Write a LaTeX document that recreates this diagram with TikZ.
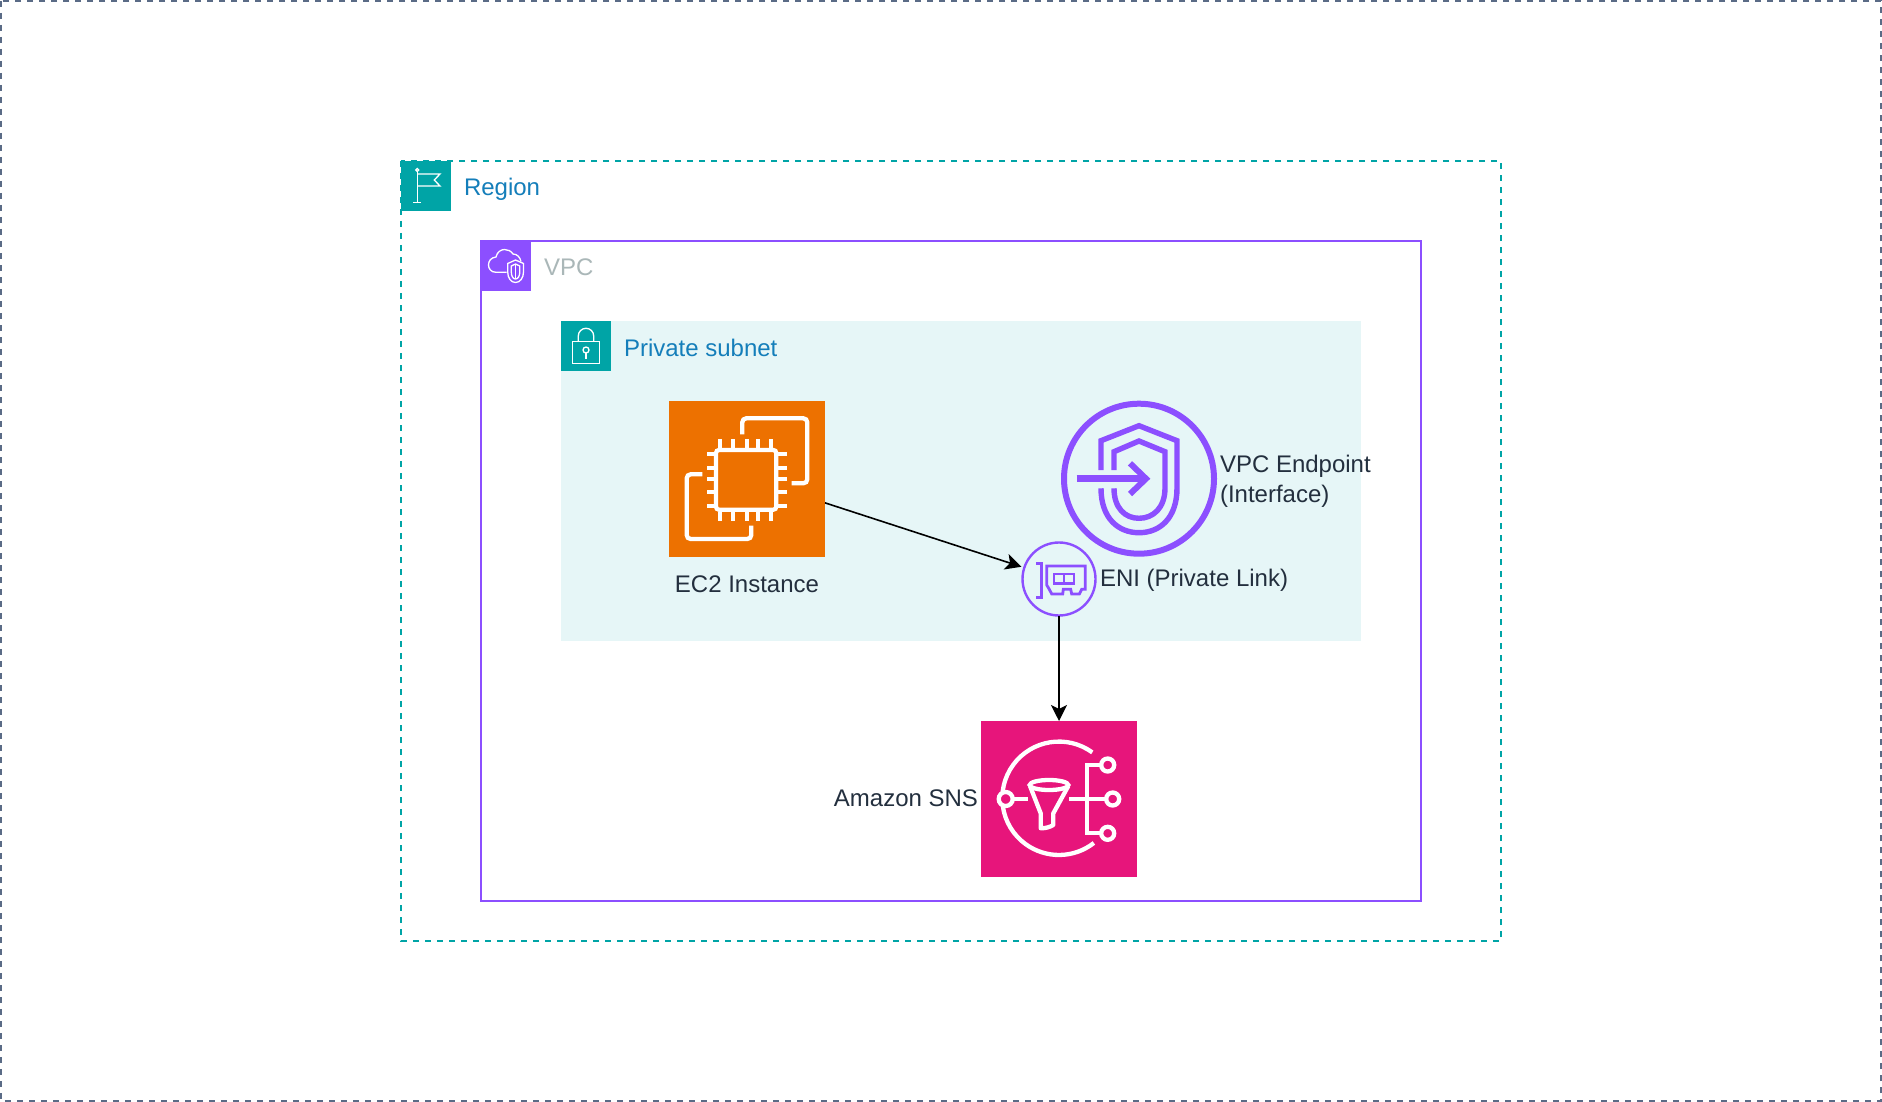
\documentclass[tikz,border=0pt]{standalone}
\usepackage{fontspec}
\setmainfont{Liberation Sans}
\usetikzlibrary{arrows.meta}
\definecolor{awsteal}{HTML}{00A4A6}
\definecolor{awsviolet}{HTML}{8C4FFF}
\definecolor{awsblue}{HTML}{147EBA}
\definecolor{awsgrey}{HTML}{AAB7B8}
\definecolor{awsink}{HTML}{232F3E}
\definecolor{awsorange}{HTML}{ED7100}
\definecolor{awspink}{HTML}{E7157B}
\definecolor{subnetfill}{HTML}{E6F6F7}
\definecolor{cloudedge}{HTML}{5A6B86}
\tikzset{
	txt/.style={font=\fontsize{24}{30}\selectfont, text=awsink, inner sep=0pt, outer sep=0pt, text height=17pt, text depth=5pt},
	grouptxt/.style={txt, anchor=west, text=awsblue},
	badge/.style={minimum size=50pt, inner sep=0pt, outer sep=0pt, anchor=north west},
	servicebox/.style={minimum size=156pt, inner sep=0pt, outer sep=0pt},
	flow/.style={line width=1.6pt, -{Stealth[length=16pt,width=16pt,inset=4pt]}},
	thin glyph/.style={draw=white, line width=1.3pt},
	chip glyph/.style={draw=white, line width=4.3pt},
	sns glyph/.style={draw=white, line width=4.3pt},
}
\begin{document}
\begin{tikzpicture}[x=1pt, y=-1pt]
	\useasboundingbox (0, 0) rectangle (1882, 1102);
	%%%%% GROUPS %%%%%
	\fill[white] (0, 0) rectangle (1882, 1102);
	\draw[cloudedge, line width=2.4pt, dash pattern=on 6pt off 6pt] (1, 1) rectangle (1881, 1101);
	
	\draw[awsteal, line width=2pt, dash pattern=on 6pt off 6pt] (401, 161) rectangle (1501, 941);
	\node[badge, fill=awsteal] (regionbadge) at (401, 161) {};
	\node[grouptxt] (regionlabel) at (464, 190) {Region};
	
	\draw[awsviolet, line width=2.4pt] (481, 241) rectangle (1421, 901);
	\node[badge, fill=awsviolet] (vpcbadge) at (481, 241) {};
	\node[grouptxt, text=awsgrey] (vpclabel) at (544, 269) {VPC};
	
	\fill[subnetfill] (561, 321) rectangle (1361, 641);
	\node[badge, fill=awsteal] (subnetbadge) at (561, 321) {};
	\node[grouptxt] (subnetlabel) at (624, 350) {Private subnet};
	
	% badge glyphs
	\draw[thin glyph] (417.3, 172) -- (417.3, 202.7) (413.3, 202.7) -- (421, 202.7);
	\draw[thin glyph] (417.3, 170) circle (1.5);
	\draw[thin glyph] (417.3, 174) -- (440, 174) -- (434.3, 180) -- (440, 186) -- (417.3, 186);
	
	\draw[thin glyph] (506.7, 272.3) -- (496, 272.3) .. controls (491, 272.3) and (488.5, 268.5) .. (488.5, 265) .. controls (488.5, 261) and (491, 257.5) .. (496, 257) .. controls (497, 252) and (501, 249.5) .. (504.5, 249.5) .. controls (508, 249.5) and (511, 251) .. (513, 254) .. controls (517, 254) and (520, 257) .. (521, 261.5);
	\draw[thin glyph] (515.5, 260) -- (523.5, 263.5) -- (523.5, 272) .. controls (523.5, 278) and (520, 282.5) .. (515.5, 282.5) .. controls (511, 282.5) and (507.7, 278) .. (507.7, 272) -- (507.7, 263.5) -- cycle;
	\draw[thin glyph] (515.5, 264) -- (519.8, 266) -- (519.8, 272) .. controls (519.8, 276) and (518, 279) .. (515.5, 279) .. controls (513, 279) and (511.3, 276) .. (511.3, 272) -- (511.3, 266) -- cycle;
	\draw[thin glyph] (515.5, 264) -- (515.5, 279);
	
	\draw[thin glyph] (572.7, 341.7) rectangle (599.3, 363.7);
	\draw[thin glyph] (578.3, 341.7) -- (578.3, 336) arc (180:360:7.7) -- (593.7, 341.7);
	\draw[thin glyph] (586, 350) circle (3);
	\draw[thin glyph] (586, 353) -- (586, 359.3);
	
	%%%%% SERVICES %%%%%
	\node[servicebox, fill=awsorange] (ec2) at (747, 479) {};
	\node[txt] (ec2label) at (747, 586) {EC2 Instance};
	
	\draw[chip glyph, rounded corners=3pt] (716, 450) rectangle (776.3, 509.7);
	\foreach \px in {720.3, 733.3, 746.7, 758.3, 771.3} {
		\draw[chip glyph] (\px, 439) -- (\px, 448);
		\draw[chip glyph] (\px, 512) -- (\px, 521);
	}
	\foreach \py in {454.3, 467.7, 479, 492.3, 505.7} {
		\draw[chip glyph] (707, \py) -- (714, \py);
		\draw[chip glyph] (778.3, \py) -- (787, \py);
	}
	\draw[chip glyph, rounded corners=4pt] (742.3, 434.3) -- (742.3, 418.3) -- (807.3, 418.3) -- (807.3, 483.3) -- (791.7, 483.3);
	\draw[chip glyph, rounded corners=4pt] (702.3, 474.3) -- (686.7, 474.3) -- (686.7, 539) -- (751.3, 539) -- (751.3, 525.7);
	
	\node[draw=awsviolet, circle, line width=6pt, minimum size=150pt, inner sep=0pt, outer sep=0pt] (endpoint) at (1139, 478.7) {};
	\node[txt, anchor=west, align=left] (endpointlabel) at (1220, 496) {VPC Endpoint\\(Interface)};
	
	\draw[awsviolet, line width=5.4pt] (1101, 488.3) .. controls (1101, 518) and (1118, 532.7) .. (1139, 532.7) .. controls (1160, 532.7) and (1177, 518) .. (1177, 488) -- (1177, 440.7) -- (1139, 425.7) -- (1101, 440.7) -- (1101, 470);
	\draw[awsviolet, line width=5.4pt] (1114, 488.3) .. controls (1114, 508) and (1125, 518.3) .. (1139, 518.3) .. controls (1153, 518.3) and (1165, 508) .. (1165, 488) -- (1165, 451.7) -- (1139, 441) -- (1114, 451.7) -- (1114, 470);
	\draw[awsviolet, line width=6.5pt] (1076.7, 478.7) -- (1146, 478.7);
	\draw[awsviolet, line width=6pt] (1130, 463.3) -- (1146, 478.7) -- (1130, 494);
	
	\node[draw=awsviolet, circle, line width=2.4pt, minimum size=73pt, inner sep=0pt, outer sep=0pt] (eni) at (1059, 579) {};
	\node[txt, anchor=west] (enilabel) at (1100, 580) {ENI (Private Link)};
	
	\draw[awsviolet, line width=2.8pt] (1036, 563.3) -- (1041.7, 563.3) -- (1041.7, 597.3) -- (1036, 597.3);
	\draw[awsviolet, line width=2.8pt] (1046.7, 566) -- (1085.3, 566) -- (1085.3, 589.3) -- (1081.7, 589.3) -- (1079.3, 594) -- (1071.7, 594) -- (1070.7, 589.3) -- (1063.3, 589.3) -- (1062.7, 594) -- (1051.7, 594) -- (1049.3, 589.3) -- (1046.7, 585) -- cycle;
	\draw[awsviolet, line width=2.8pt] (1054, 574) rectangle (1074, 583.3) (1064, 574) -- (1064, 583.3);
	
	\node[servicebox, fill=awspink] (sns) at (1059, 799) {};
	\node[txt, anchor=east] (snslabel) at (978, 800) {Amazon SNS};
	
	\draw[sns glyph] (1092.3, 752.4) arc (-54:-308:56.7);
	\draw[sns glyph, fill=awspink] (1005.7, 799) circle (7);
	\draw[sns glyph] (1013.3, 799) -- (1028.3, 799);
	\draw[sns glyph, line join=round] (1030, 786) -- (1040.7, 813.3) -- (1040.7, 828.3) .. controls (1046, 828.3) and (1050, 827) .. (1053.3, 825) -- (1053.3, 813.3) -- (1068.3, 786);
	\draw[sns glyph] (1049, 785) ellipse (19.3 and 5);
	\draw[sns glyph] (1069.3, 799) -- (1106, 799);
	\draw[sns glyph] (1101, 765) -- (1087.3, 765) -- (1087.3, 833.3) -- (1101, 833.3);
	\foreach \py/\px in {765/1107.7, 799/1112.7, 833.3/1107.7} {
		\draw[sns glyph, fill=awspink] (\px, \py) circle (6.5);
	}
	
	%%%%% FLOWS %%%%%
	\draw[flow, shorten >=3pt] (ec2.-17) -- (eni);
	\draw[flow] (eni) -- (sns);
\end{tikzpicture}
\end{document}
